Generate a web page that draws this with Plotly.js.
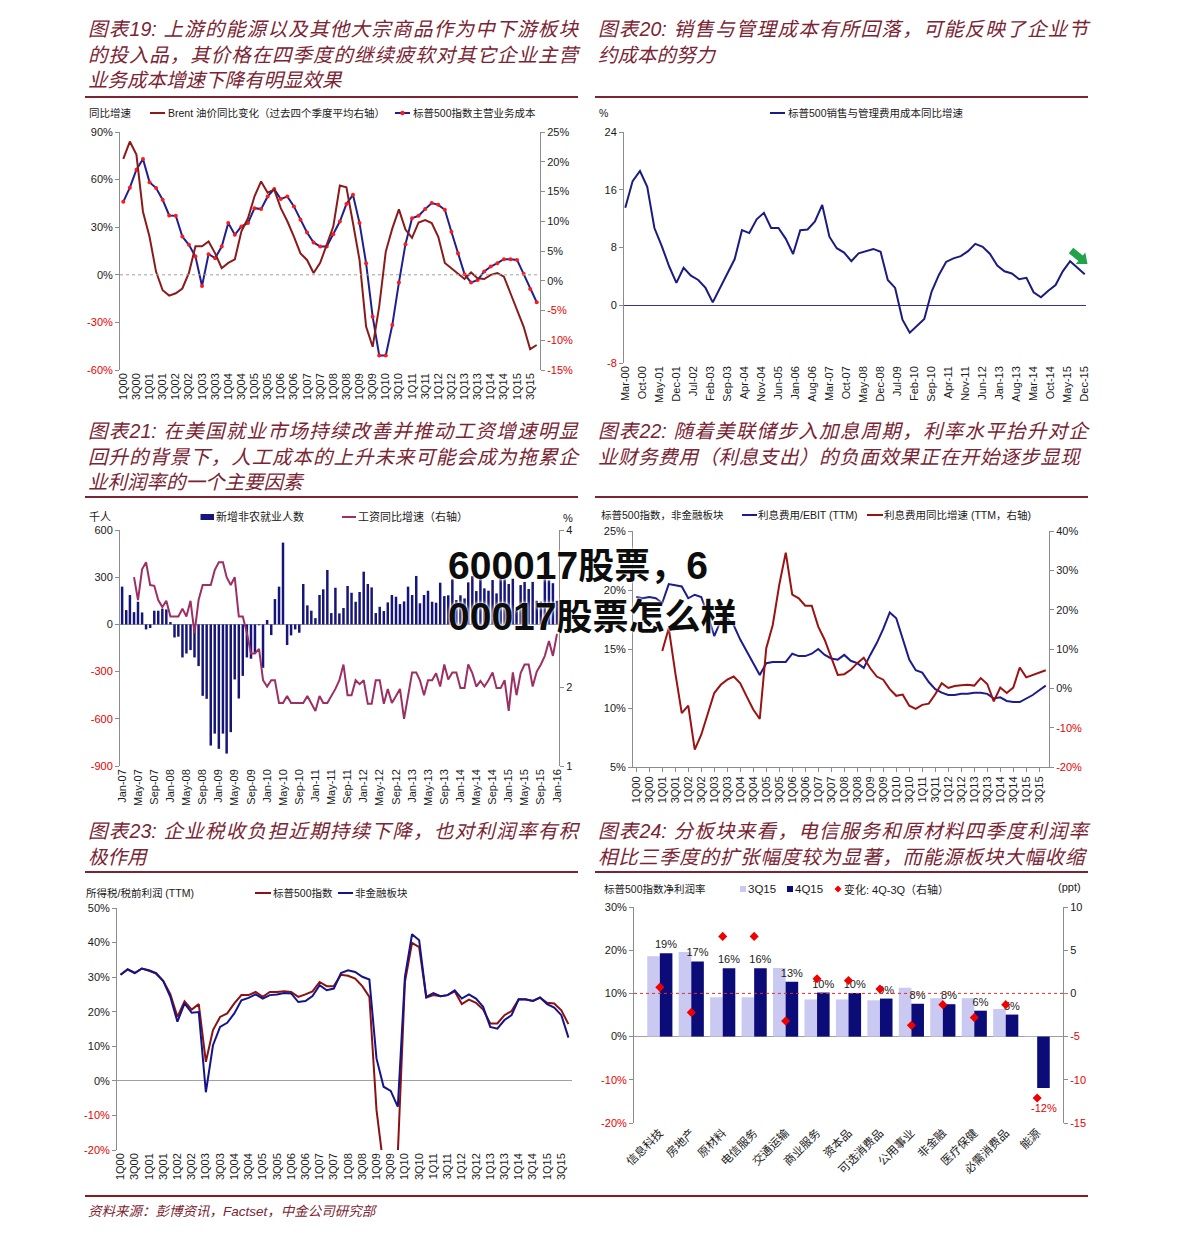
<!DOCTYPE html>
<html>
<head>
<meta charset="utf-8">
<script src="https://cdn.plot.ly/plotly-3.0.1.min.js"></script>
<style>
  body { margin: 0; background: #fff; }
  #page { position: relative; width: 1191px; height: 1238px; overflow: hidden; background: #fff; }
  .ttl { position: absolute; width: 490px; font-size: 19.5px; line-height: 25.5px; color: #7b2433;
         font-style: italic; font-family: "Liberation Sans", Arial, "Noto Sans CJK SC", sans-serif; }
  .ttl .j { text-align: justify; text-align-last: justify; }
  .rule { position: absolute; height: 2px; background: #7b2433; }
  .chart { position: absolute; }
  .foot { position: absolute; left: 88px; top: 1200px; font-size: 13.5px; color: #7b2433; font-style: italic;
          font-family: "Liberation Sans", Arial, "Noto Sans CJK SC", sans-serif; white-space: nowrap; }
  .wm { position: absolute; left: 448px; font-family: "Liberation Sans", Arial, "Noto Sans CJK SC", sans-serif;
        font-weight: bold; font-size: 39px; line-height: 34px; height: 34px; color: #0d0d0d; white-space: nowrap;
        text-shadow: 0 0 2px #fff, 0 0 4px #fff; z-index: 20; }
  .wm .c { font-family: "Noto Sans CJK SC", sans-serif; font-size: 36px; }
</style>
</head>
<body>
<div id="page">
  <div class="ttl" style="left:88px;top:17px;">
    <div class="j">图表19: 上游的能源以及其他大宗商品作为中下游板块</div>
    <div class="j">的投入品，其价格在四季度的继续疲软对其它企业主营</div>
    <div>业务成本增速下降有明显效果</div>
  </div>
  <div class="ttl" style="left:598px;top:17px;">
    <div class="j">图表20: 销售与管理成本有所回落，可能反映了企业节</div>
    <div>约成本的努力</div>
  </div>
  <div class="rule" style="left:85px;top:96px;width:493px;"></div>
  <div class="rule" style="left:595px;top:96px;width:493px;"></div>

  <div class="ttl" style="left:88px;top:419px;">
    <div class="j">图表21: 在美国就业市场持续改善并推动工资增速明显</div>
    <div class="j">回升的背景下，人工成本的上升未来可能会成为拖累企</div>
    <div>业利润率的一个主要因素</div>
  </div>
  <div class="ttl" style="left:598px;top:419px;">
    <div class="j">图表22: 随着美联储步入加息周期，利率水平抬升对企</div>
    <div style="letter-spacing:0.6px">业财务费用（利息支出）的负面效果正在开始逐步显现</div>
  </div>
  <div class="rule" style="left:85px;top:496px;width:493px;"></div>
  <div class="rule" style="left:595px;top:496px;width:493px;"></div>

  <div class="ttl" style="left:88px;top:819px;">
    <div class="j">图表23: 企业税收负担近期持续下降，也对利润率有积</div>
    <div>极作用</div>
  </div>
  <div class="ttl" style="left:598px;top:819px;">
    <div class="j">图表24: 分板块来看，电信服务和原材料四季度利润率</div>
    <div style="letter-spacing:0.8px">相比三季度的扩张幅度较为显著，而能源板块大幅收缩</div>
  </div>
  <div class="rule" style="left:85px;top:871px;width:493px;"></div>
  <div class="rule" style="left:595px;top:871px;width:493px;"></div>

  <div id="c19" class="chart" style="left:80px;top:100px;width:500px;height:315px;"></div>
  <div id="c20" class="chart" style="left:590px;top:100px;width:510px;height:315px;"></div>
  <div id="c21" class="chart" style="left:80px;top:505px;width:500px;height:310px;"></div>
  <div id="c22" class="chart" style="left:590px;top:505px;width:510px;height:310px;"></div>
  <div id="c23" class="chart" style="left:80px;top:880px;width:500px;height:320px;"></div>
  <div id="c24" class="chart" style="left:590px;top:880px;width:510px;height:320px;"></div>

  <div class="rule" style="left:85px;top:1195px;width:1003px;background:#8b1a1a;"></div>
  <div class="foot">资料来源：彭博资讯，Factset，中金公司研究部</div>

  <div class="wm" style="top:546px;">600017<span class="c">股票，</span>6</div>
  <div class="wm" style="top:597px;">00017<span class="c">股票怎么样</span></div>
</div>

<script>
// ---------------- DATA ----------------
// quarter categories 1Q00 .. 4Q15
const quarters = [];
for (let y = 0; y <= 15; y++) for (let q = 1; q <= 4; q++) quarters.push(q + 'Q' + String(y).padStart(2, '0'));
const quarterTicks = quarters.filter((_, i) => i % 2 === 0);

// Chart 19
const cost19 = [46, 54.9, 66.2, 73, 58.4, 54.7, 47.3, 37.4, 37.2, 24.1,
  18.9, 11.5, -7, 13, 10.5, 17.8, 32.6, 25.2, 30.5, 32.6,
  42, 41.4, 49.4, 54, 47.7, 49.4, 43.1, 34.7, 26.7, 20.4,
  17.8, 17.8, 25.6, 33.6, 44.6, 50.4, 32.6, 7.3, -26.4, -50.8,
  -50.8, -31.6, -4.9, 19.3, 35.7, 37.2, 41.4, 45.2, 44.1, 41,
  27.1, 13.6, 0.4, -4.9, -3.2, 2.1, 5.2, 7.3, 9.8, 9.8,
  9.4, 0.6, -8.9, -17.3];
const brent19 = [20.5, 23.4, 21.2, 11.6, 7.4, 1.5, -1.6, -2.5, -2.1, -1.3,
  1.3, 5.8, 5.8, 6.6, 4.6, 2.1, 3.0, 3.6, 8.3, 10.5,
  14.2, 16.7, 14.8, 15.3, 12.2, 10.0, 7.4, 4.6, 3.5, 1.3,
  3.0, 6.0, 9.1, 16.0, 15.7, 9.7, 3.5, -7.7, -11.1, -4.3,
  4.9, 8.8, 12.0, 8.6, 7.2, 9.8, 10.2, 9.7, 7.4, 3.0,
  2.1, 1.3, 0.3, 1.4, 0.4, 0.3, 1.0, 1.3, 0.7, -2.1,
  -4.9, -7.7, -11.5, -10.8];
const y19Left = [-60, -30, 0, 30, 60, 90];
const y19Right = [-15, -10, -5, 0, 5, 10, 15, 20, 25];

// Chart 20 (quarterly, Mar-00 .. Dec-15)
const dates20 = [];
for (let y = 2000; y <= 2015; y++) for (const m of ['03', '06', '09', '12']) dates20.push(y + '-' + m + '-01');
const sga20 = [13.5, 17.2, 18.6, 16.4, 10.7, 8.2, 5.4, 3.1, 5.2, 4.1,
  3.5, 2.4, 0.4, 2.4, 4.3, 6.4, 10.4, 10.0, 11.9, 12.8,
  10.7, 10.7, 9.2, 7.1, 10.4, 10.5, 11.6, 13.9, 9.5, 7.9,
  7.3, 6.1, 7.2, 7.5, 7.8, 7.4, 3.5, 2.4, -2.0, -3.8,
  -2.9, -1.9, 1.9, 4.2, 6.0, 6.5, 6.8, 7.5, 8.5, 8.1,
  7.1, 5.5, 4.7, 4.4, 3.6, 3.8, 1.8, 1.1, 2.0, 2.8,
  4.7, 6.1, 5.2, 4.3];
const y20Ticks = [-8, 0, 8, 16, 24];

// Chart 21 (monthly, Jan-07 .. Jan-16)
const months21 = [];
for (let y = 2007; y <= 2015; y++) for (let m = 1; m <= 12; m++) months21.push(y + '-' + String(m).padStart(2, '0') + '-01');
months21.push('2016-01-01');
const nfp21 = [240, 91, 187, 78, 144, 76, -32, -23, 87, 87, 100, 95, 15,
  -83, -78, -210, -185, -163, -210, -265, -454, -473, -770, -694, -791, -694,
  -821, -685, -350, -471, -327, -210, -218, -180, -6, -276, 28, -68, 161,
  240, 520, -131, -70, -32, -53, 257, 121, 87, 40, 187, 223, 346,
  72, 233, 70, 104, 244, 201, 144, 206, 335, 257, 235, 72, 112,
  85, 140, 187, 176, 129, 146, 240, 187, 308, 134, 187, 214, 144,
  138, 265, 180, 185, 286, 155, 185, 165, 267, 307, 212, 303, 229,
  214, 282, 197, 314, 286, 257, 290, 85, 250, 270, 225, 270, 150,
  145, 295, 280, 262, 150];
const wage21 = [null, null, null,
  3.40, 3.11, 3.50, 3.59, 3.30, 3.29, 3.11, 3.02, 3.10, 2.90,
  2.90, 2.90, 3.00, 2.90, 3.10, 2.69, 3.11, 3.30, 3.30, 3.30,
  3.49, 3.59, 3.59, 3.40, 3.30, 3.40, 2.90, 2.90, 2.69, 2.43,
  2.43, 2.49, 2.09, 2.01, 2.09, 2.09, 1.80, 1.80, 1.89, 1.80,
  1.80, 1.80, 1.80, 1.89, 1.80, 1.70, 1.89, 1.80, 1.80, 1.89,
  1.98, 2.09, 2.29, 1.90, 1.90, 2.09, 2.04, 2.09, 1.79, 1.79,
  2.09, 2.09, 1.79, 1.98, 1.80, 1.89, 1.98, 1.60, 1.90, 2.19,
  2.19, 2.09, 1.90, 2.09, 2.09, 2.18, 2.01, 2.29, 2.10, 2.19,
  2.19, 1.99, 1.99, 2.29, 2.18, 2.01, 2.08, 2.01, 2.09, 2.19,
  1.99, 1.99, 2.09, 1.70, 2.19, 1.90, 2.18, 2.29, 2.29, 2.01,
  2.20, 2.29, 2.40, 2.59, 2.40, 2.68];
const y21Left = [-900, -600, -300, 0, 300, 600];
const y21Right = [1, 2, 4];

// Chart 22
const ebit22 = [19.4, 19.3, 19.4, 19.3, 18.9, 20.5, 20.4, 20.3, 19.3, 19.6,
  19.4, 17.9, 16.1, 17.4, 17.6, 17.0, 15.8, 14.8, 13.8, 12.8,
  13.8, 13.9, 13.9, 13.9, 14.6, 14.4, 14.4, 14.6, 15.0, 14.5,
  14.2, 14.1, 14.5, 14.0, 13.8, 13.4, 14.5, 15.5, 16.7, 18.1,
  17.6, 15.9, 14.1, 13.2, 13.0, 12.2, 11.6, 11.3, 11.1, 11.1,
  11.2, 11.2, 11.3, 11.3, 11.2, 10.8, 10.9, 10.6, 10.5, 10.5,
  10.8, 11.1, 11.5, 11.9];
const int22 = [null, null, null, null, 9.5, 15.3, 4.0, -6.3, -4.4, -15.6,
  -11.8, -6.7, -1.2, 0.9, 2.2, 3.0, 1.3, -2.1, -5.4, -7.8,
  10.2, 16.1, 26.3, 34.5, 23.8, 22.9, 21.0, 21.0, 15.7, 12.3,
  8.1, 3.4, 3.6, 4.7, 6.4, 7.8, 5.1, 3.0, 2.2, -0.2,
  -1.9, -1.6, -4.4, -5.2, -4.2, -3.9, -1.5, 1.3, 0.1, 0.6,
  0.8, 0.9, 0.7, 2.6, 1.1, -3.3, 0.2, -1.2, 0.2, 5.3,
  2.8, 3.4, 4.0, 4.6];
const y22Left = [5, 10, 15, 20, 25];
const y22Right = [-20, -10, 0, 10, 20, 30, 40];

// Chart 23
const sp23 = [30.7, 32.2, 31.2, 32.5, 31.8, 31.0, 28.9, 25.1, 18.5, 23.0,
  20.6, 22.2, 5.5, 14.7, 18.5, 19.5, 22.4, 24.8, 24.8, 25.7,
  24.3, 25.7, 25.7, 25.9, 25.7, 24.3, 25.0, 25.9, 28.6, 27.4,
  27.4, 30.7, 30.4, 29.6, 27.4, 24.3, -8.4, -25, -35, -21,
  28.6, 39.9, 38.7, 24.1, 24.8, 24.5, 24.8, 25.9, 22.2, 23.5,
  22.6, 20.6, 16.6, 16.6, 19.0, 20.2, 23.6, 23.6, 23.1, 24.1,
  22.6, 22.4, 20.4, 16.4];
const nonfin23 = [30.7, 32.3, 31.2, 32.5, 32.0, 31.2, 28.9, 24.3, 17.1, 22.4,
  19.7, 19.9, -3.3, 10.3, 15.6, 16.8, 19.5, 23.3, 24.0, 25.0,
  23.8, 24.8, 25.0, 25.4, 25.3, 22.8, 23.1, 24.5, 27.7, 26.2,
  26.7, 31.2, 32.0, 31.5, 30.1, 29.3, 6.5, -1.7, -2.9, -7.5,
  30.1, 42.4, 40.7, 24.3, 25.4, 24.5, 24.8, 26.2, 23.8, 25.0,
  23.8, 21.4, 15.6, 15.1, 17.6, 19.0, 23.6, 23.5, 23.1, 24.1,
  22.2, 21.2, 19.0, 12.5];
const y23Ticks = [-20, -10, 0, 10, 20, 30, 40, 50];

// Chart 24
const sectors24 = ['信息科技', '房地产', '原材料', '电信服务', '交通运输', '商业服务', '资本品',
  '可选消费品', '公用事业', '非金融', '医疗保健', '必需消费品', '能源'];
const q3_24 = [18.6, 19.6, 9.1, 9.1, 15.9, 8.6, 8.6, 8.4, 11.3, 8.9, 8.9, 6.4, 0.1];
const q4_24 = [19.3, 17.4, 15.8, 15.8, 12.7, 10.2, 10.1, 8.8, 7.6, 7.5, 6.0, 5.1, -11.9];
const chg24 = [0.7, -2.2, 6.6, 6.6, -3.2, 1.7, 1.5, 0.5, -3.7, -1.3, -2.8, -1.3, -12.1];
const y24Left = [-20, -10, 0, 10, 20, 30];
const y24Right = [-15, -10, -5, 0, 5, 10];

// ---------------- HELPERS ----------------
const FONT = '"Liberation Sans", Arial, "Noto Sans CJK SC", sans-serif';
const NEG = '#e60000';
const INK = '#1a1a1a';
const AX = '#8c8c8c';
const CFG = { staticPlot: true, displayModeBar: false };

function negLabels(vals, suffix) {
  return vals.map(v => { const t = v + suffix; return v < 0 ? '<span style="color:' + NEG + '">' + t + '</span>' : t; });
}
function frame(w, h, m) {
  const pw = w - m.l - m.r, ph = h - m.t - m.b;
  return { px: x => (x - m.l) / pw, py: y => (h - m.b - y) / ph, pw: pw, ph: ph };
}
function lgLine(f, x0, x1, y, color, width) {
  return { type: 'line', xref: 'paper', yref: 'paper', x0: f.px(x0), x1: f.px(x1), y0: f.py(y), y1: f.py(y), line: { color: color, width: width || 2 } };
}
function lgRect(f, x0, x1, y0, y1, color) {
  return { type: 'rect', xref: 'paper', yref: 'paper', x0: f.px(x0), x1: f.px(x1), y0: f.py(y1), y1: f.py(y0), fillcolor: color, line: { width: 0 } };
}
function lgDot(f, cx, cy, r, color) {
  return { type: 'circle', xref: 'paper', yref: 'paper', x0: f.px(cx - r), x1: f.px(cx + r), y0: f.py(cy + r), y1: f.py(cy - r), fillcolor: color, line: { width: 0 } };
}
function lgDiamond(f, cx, cy, r, color) {
  const p = (x, y) => f.px(x) + ',' + f.py(y);
  return { type: 'path', xref: 'paper', yref: 'paper', path: 'M' + p(cx, cy - r) + ' L' + p(cx + r, cy) + ' L' + p(cx, cy + r) + ' L' + p(cx - r, cy) + ' Z', fillcolor: color, line: { width: 0 } };
}
// fat block arrow (decoration), tail -> tip in div pixels
function blockArrow(f, tx, ty, hx, hy, shaftW, headW, headL, color) {
  const dx = hx - tx, dy = hy - ty, len = Math.hypot(dx, dy);
  const ux = dx / len, uy = dy / len, nx = -uy, ny = ux;
  const bx = hx - ux * headL, by = hy - uy * headL;
  const pts = [
    [tx + nx * shaftW / 2, ty + ny * shaftW / 2], [bx + nx * shaftW / 2, by + ny * shaftW / 2],
    [bx + nx * headW / 2, by + ny * headW / 2], [hx, hy],
    [bx - nx * headW / 2, by - ny * headW / 2], [bx - nx * shaftW / 2, by - ny * shaftW / 2],
    [tx - nx * shaftW / 2, ty - ny * shaftW / 2]
  ];
  const path = pts.map((p, i) => (i ? 'L' : 'M') + f.px(p[0]) + ',' + f.py(p[1])).join(' ') + ' Z';
  return { type: 'path', xref: 'paper', yref: 'paper', path: path, fillcolor: color, line: { width: 0 } };
}
function lbl(f, x, y, text, size, xanchor) {
  return { xref: 'paper', yref: 'paper', x: f.px(x), y: f.py(y), xanchor: xanchor || 'left', yanchor: 'middle', showarrow: false,
           text: text, borderpad: 0, font: { family: FONT, size: size || 10.5, color: INK } };
}
function base(w, h, m) {
  return { width: w, height: h, margin: Object.assign({ pad: 0, autoexpand: false }, m),
           paper_bgcolor: 'rgba(0,0,0,0)', plot_bgcolor: 'rgba(0,0,0,0)', showlegend: false,
           font: { family: FONT, size: 11, color: INK } };
}
function yAx(range, vals, suffix, extra) {
  return Object.assign({ range: range, tickvals: vals, ticktext: negLabels(vals, suffix), showline: true, linecolor: AX, linewidth: 1,
    ticks: 'outside', ticklen: 4, tickcolor: AX, showgrid: false, zeroline: false, tickfont: { size: 11, color: INK } }, extra || {});
}
function catX(extra) {
  return Object.assign({ type: 'category', range: [-0.5, quarters.length - 0.5], tickvals: quarterTicks, tickangle: -90,
    showline: false, ticks: '', showgrid: false, zeroline: false, tickfont: { size: 11, color: INK } }, extra || {});
}

// ---------------- CHART 19 ----------------
(function () {
  const W = 500, H = 315, m = { l: 40, r: 40, t: 32, b: 45 }, f = frame(W, H, m);
  const L = base(W, H, m);
  L.xaxis = catX();
  L.yaxis = yAx([-60, 90], y19Left, '%');
  L.yaxis2 = yAx([-15, 25], y19Right, '%', { overlaying: 'y', side: 'right' });
  L.shapes = [
    { type: 'line', xref: 'paper', x0: 0, x1: 1, yref: 'y', y0: 0, y1: 0, line: { color: '#a0a0a0', width: 1, dash: 'dot' } },
    lgLine(f, 70, 85, 13, '#8b1a1a', 2),
    lgLine(f, 315, 330, 13, '#1f1f8f', 2),
    lgDot(f, 322.5, 13, 2.2, '#ff1a1a')
  ];
  L.annotations = [
    lbl(f, 8, 13, '同比增速'),
    lbl(f, 87, 13, 'Brent 油价同比变化（过去四个季度平均右轴）'),
    lbl(f, 332, 13, '标普500指数主营业务成本')
  ];
  const data = [
    { x: quarters, y: brent19, yaxis: 'y2', type: 'scatter', mode: 'lines', line: { color: '#8b1a1a', width: 2 }, name: 'Brent' },
    { x: quarters, y: cost19, type: 'scatter', mode: 'lines+markers', line: { color: '#1f1f8f', width: 2 },
      marker: { color: '#ff1a1a', size: 4 }, name: '标普500指数主营业务成本' }
  ];
  Plotly.newPlot('c19', data, L, CFG);
})();

// ---------------- CHART 20 ----------------
(function () {
  const W = 510, H = 315, m = { l: 34, r: 14, t: 32, b: 52 }, f = frame(W, H, m);
  const L = base(W, H, m);
  L.xaxis = { type: 'date', range: ['2000-02-14', '2015-12-17'], tick0: '2000-03-01', dtick: 'M7', tickformat: '%b-%y',
              tickangle: -90, showline: false, ticks: '', showgrid: false, zeroline: false, tickfont: { size: 11, color: INK } };
  L.yaxis = yAx([-8, 24], y20Ticks, '', { zeroline: true, zerolinecolor: '#34348c', zerolinewidth: 1.5 });
  L.shapes = [
    lgLine(f, 180, 195, 13, '#1b1b80', 2),
    blockArrow(f, 481, 150.5, 497.5, 164, 7, 15, 9, '#22a34a')
  ];
  L.annotations = [
    lbl(f, 8, 13, '%'),
    lbl(f, 197, 13, '标普500销售与管理费用成本同比增速')
  ];
  const data = [{ x: dates20, y: sga20, type: 'scatter', mode: 'lines', line: { color: '#1b1b80', width: 2 }, name: 'SGA' }];
  Plotly.newPlot('c20', data, L, CFG);
})();

// ---------------- CHART 21 ----------------
(function () {
  const W = 500, H = 310, m = { l: 40, r: 21, t: 25, b: 49 }, f = frame(W, H, m);
  const L = base(W, H, m);
  L.bargap = 0.33;
  L.xaxis = { type: 'date', range: ['2006-12-16', '2016-01-16'], tick0: '2007-01-01', dtick: 'M4', tickformat: '%b-%y',
              tickangle: -90, showline: false, ticks: '', showgrid: false, zeroline: false, tickfont: { size: 11, color: INK } };
  L.yaxis = yAx([-900, 600], y21Left, '', { zeroline: true, zerolinecolor: '#a0a0a0', zerolinewidth: 1 });
  L.yaxis2 = yAx([1, 4], y21Right, '', { overlaying: 'y', side: 'right' });
  L.shapes = [lgRect(f, 120.5, 134, 9, 15, '#15157a'), lgLine(f, 262, 276, 12, '#9c2f63', 2)];
  L.annotations = [
    lbl(f, 8, 12, '千人', 11),
    lbl(f, 135, 12, '新增非农就业人数', 11),
    lbl(f, 277, 12, '工资同比增速（右轴）', 11),
    lbl(f, 482, 13, '%', 11)
  ];
  const data = [
    { x: months21, y: nfp21, type: 'bar', marker: { color: '#15157a' }, name: '新增非农就业人数' },
    { x: months21, y: wage21, yaxis: 'y2', type: 'scatter', mode: 'lines', line: { color: '#9c2f63', width: 2 }, name: '工资同比增速' }
  ];
  Plotly.newPlot('c21', data, L, CFG);
})();

// ---------------- CHART 22 ----------------
(function () {
  const W = 510, H = 310, m = { l: 43, r: 51, t: 26, b: 48 }, f = frame(W, H, m);
  const L = base(W, H, m);
  L.xaxis = catX({ showline: true, linecolor: AX, ticks: 'outside', ticklen: 4, tickcolor: AX });
  L.yaxis = yAx([5, 25], y22Left, '%');
  L.yaxis2 = yAx([-20, 40], y22Right, '%', { overlaying: 'y', side: 'right' });
  L.shapes = [lgLine(f, 152, 167, 10, '#1c1c8c', 2), lgLine(f, 277, 293, 10, '#9a1212', 2)];
  L.annotations = [
    lbl(f, 10, 10, '标普500指数，非金融板块'),
    lbl(f, 167, 10, '利息费用/EBIT (TTM)'),
    lbl(f, 293, 10, '利息费用同比增速 (TTM，右轴)')
  ];
  const data = [
    { x: quarters, y: ebit22, type: 'scatter', mode: 'lines', line: { color: '#1c1c8c', width: 2 }, name: '利息费用/EBIT' },
    { x: quarters, y: int22, yaxis: 'y2', type: 'scatter', mode: 'lines', line: { color: '#9a1212', width: 2 }, name: '利息费用同比增速' }
  ];
  Plotly.newPlot('c22', data, L, CFG);
})();

// ---------------- CHART 23 ----------------
(function () {
  const W = 500, H = 320, m = { l: 37, r: 8, t: 28, b: 50 }, f = frame(W, H, m);
  const L = base(W, H, m);
  L.xaxis = catX();
  L.yaxis = yAx([-20, 50], y23Ticks, '%', { zeroline: true, zerolinecolor: '#a0a0a0', zerolinewidth: 1 });
  L.shapes = [lgLine(f, 175, 191, 13, '#8b1212', 2), lgLine(f, 258, 273, 13, '#14148a', 2)];
  L.annotations = [
    lbl(f, 5, 13, '所得税/税前利润 (TTM)'),
    lbl(f, 192, 13, '标普500指数'),
    lbl(f, 274, 13, '非金融板块')
  ];
  const data = [
    { x: quarters, y: sp23, type: 'scatter', mode: 'lines', line: { color: '#8b1212', width: 2 }, name: '标普500指数' },
    { x: quarters, y: nonfin23, type: 'scatter', mode: 'lines', line: { color: '#14148a', width: 2 }, name: '非金融板块' }
  ];
  Plotly.newPlot('c23', data, L, CFG);
})();

// ---------------- CHART 24 ----------------
(function () {
  const W = 510, H = 320, m = { l: 44, r: 37, t: 27, b: 77 }, f = frame(W, H, m);
  const L = base(W, H, m);
  const bargap = 0.2;
  L.barmode = 'group';
  L.bargap = bargap;
  L.bargroupgap = 0;
  L.xaxis = { type: 'category', tickangle: -45, showline: false, ticks: '', showgrid: false, zeroline: false,
              tickfont: { size: 11.5, color: INK } };
  L.yaxis = yAx([-20, 30], y24Left, '%', { zeroline: true, zerolinecolor: '#a0a0a0', zerolinewidth: 1 });
  L.yaxis2 = yAx([-15, 10], y24Right, '', { overlaying: 'y', side: 'right' });
  L.shapes = [
    { type: 'line', xref: 'paper', x0: 0, x1: 1, yref: 'y2', y0: 0, y1: 0, line: { color: '#e03030', width: 1, dash: 'dot' } },
    lgRect(f, 150, 156, 6, 12, '#c9c9f2'),
    lgRect(f, 197, 203, 6, 12, '#0c0c78'),
    lgDiamond(f, 248, 9, 3.5, '#f00000')
  ];
  // offset of the 4Q15 bar centre from its category centre, in pixels
  const catPx = f.pw / sectors24.length;
  const barShift = (1 - bargap) / 4 * catPx;
  L.annotations = [
    lbl(f, 13, 9, '标普500指数净利润率'),
    lbl(f, 157, 9, '3Q15', 11.5),
    lbl(f, 204, 9, '4Q15', 11.5),
    lbl(f, 253, 9, '变化: 4Q-3Q（右轴）', 11),
    lbl(f, 492, 7, '(ppt)', 11, 'right')
  ].concat(q4_24.map((v, i) => v < 0 ? {
      x: sectors24[i], y: v, xref: 'x', yref: 'y', showarrow: false, xanchor: 'center', yanchor: 'middle',
      xshift: barShift, yshift: -20, text: Math.round(v) + '%', font: { family: FONT, size: 11, color: NEG }
    } : null).filter(a => a));
  const data = [
    { x: sectors24, y: q3_24, type: 'bar', marker: { color: '#c9c9f2' }, name: '3Q15' },
    { x: sectors24, y: q4_24, type: 'bar', marker: { color: '#0c0c78' }, name: '4Q15',
      text: q4_24.map(v => v < 0 ? '' : Math.round(v) + '%'), textposition: 'outside', constraintext: 'none', cliponaxis: false,
      textfont: { size: 11, family: FONT, color: INK } },
    { x: sectors24, y: chg24, yaxis: 'y2', type: 'scatter', mode: 'markers',
      marker: { symbol: 'diamond', size: 7, color: '#f00000' }, name: '变化' }
  ];
  Plotly.newPlot('c24', data, L, CFG);
})();
</script>
</body>
</html>
